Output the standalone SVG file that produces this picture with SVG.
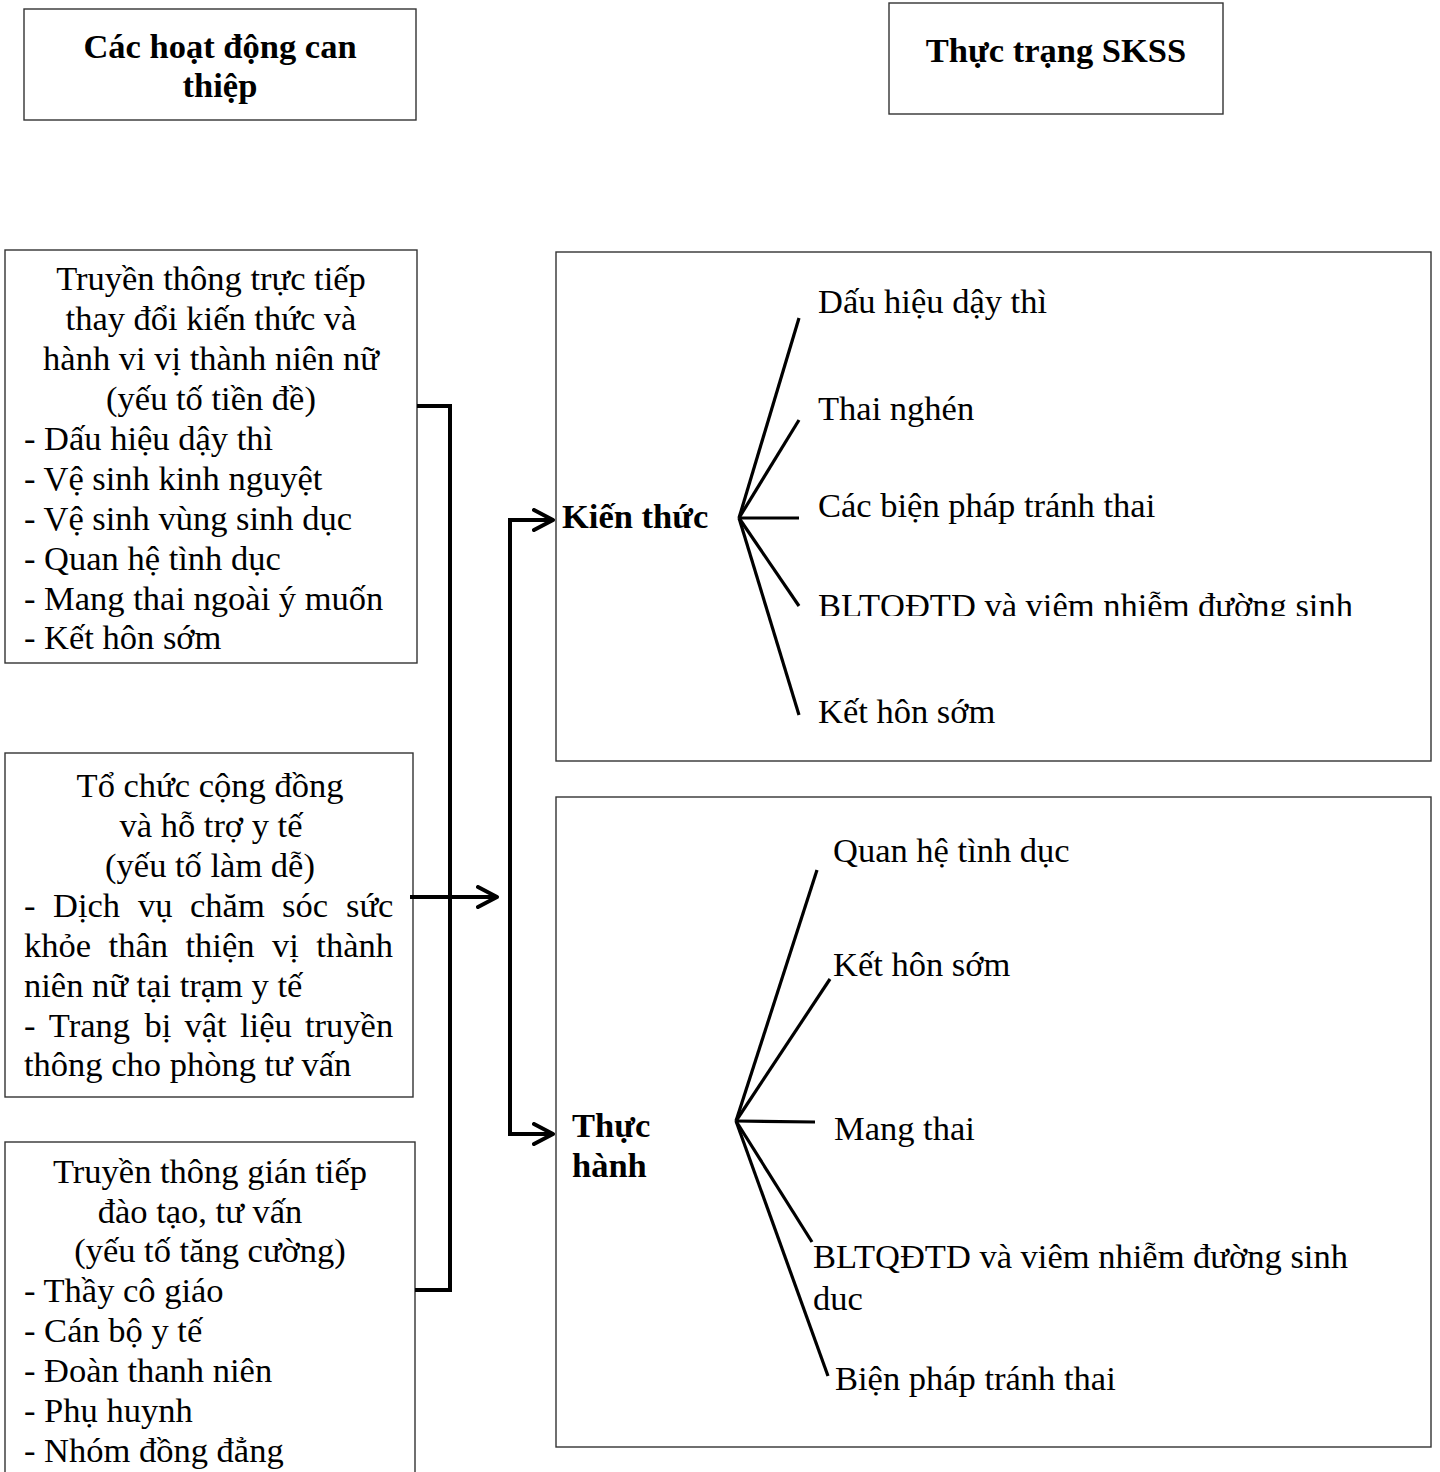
<svg xmlns="http://www.w3.org/2000/svg" width="1440" height="1472" viewBox="0 0 1440 1472">
<style>
.box{fill:#fff;stroke:#333;stroke-width:1.4}
.t{font-family:"Liberation Serif","Times New Roman",serif;font-size:34.5px;fill:#000}
.b{font-weight:bold}
.c{text-anchor:middle}
.con{fill:none;stroke:#000;stroke-width:4}
.fan{fill:none;stroke:#000;stroke-width:3.2;stroke-linecap:butt}
</style>
<defs>
<marker id="chev" viewBox="0 0 24 24" refX="21" refY="12" markerWidth="24" markerHeight="24" markerUnits="userSpaceOnUse" orient="auto">
<path d="M2,2 L21,12 L2,22" fill="none" stroke="#000" stroke-width="4" stroke-linecap="round" stroke-linejoin="round"/>
</marker>
<clipPath id="clipK"><rect x="800" y="560" width="620" height="56"/></clipPath>
</defs>
<rect width="1440" height="1472" fill="#fff"/>

<g id="title-left">
<rect class="box" x="24" y="9" width="392" height="111"/>
<text class="t b c" x="220" y="58">Các hoạt động can</text>
<text class="t b c" x="220" y="97">thiệp</text>
</g>
<g id="title-right">
<rect class="box" x="889" y="3" width="334" height="111"/>
<text class="t b c" x="1056" y="62">Thực trạng SKSS</text>
</g>

<g id="node-truyen-thong-truc-tiep">
<rect class="box" x="5" y="250" width="412" height="413"/>
<text class="t c" x="211" y="290">Truyền thông trực tiếp</text>
<text class="t c" x="211" y="330">thay đổi kiến thức và</text>
<text class="t c" x="211" y="370">hành vi vị thành niên nữ</text>
<text class="t c" x="211" y="410">(yếu tố tiền đề)</text>
<text class="t" x="24" y="450">- Dấu hiệu dậy thì</text>
<text class="t" x="24" y="490">- Vệ sinh kinh nguyệt</text>
<text class="t" x="24" y="530">- Vệ sinh vùng sinh dục</text>
<text class="t" x="24" y="570">- Quan hệ tình dục</text>
<text class="t" x="24" y="610">- Mang thai ngoài ý muốn</text>
<text class="t" x="24" y="649">- Kết hôn sớm</text>
</g>

<g id="node-to-chuc-cong-dong">
<rect class="box" x="5" y="753" width="408" height="344"/>
<text class="t c" x="210" y="797">Tổ chức cộng đồng</text>
<text class="t c" x="211" y="837">và hỗ trợ y tế</text>
<text class="t c" x="210" y="877">(yếu tố làm dễ)</text>
<text class="t" y="917"><tspan x="24">-</tspan><tspan x="53">Dịch</tspan><tspan x="138">vụ</tspan><tspan x="190">chăm</tspan><tspan x="282">sóc</tspan><tspan x="346">sức</tspan></text>
<text class="t" y="957"><tspan x="24">khỏe</tspan><tspan x="108.6">thân</tspan><tspan x="185.5">thiện</tspan><tspan x="272">vị</tspan><tspan x="316.3">thành</tspan></text>
<text class="t" x="24" y="997">niên nữ tại trạm y tế</text>
<text class="t" y="1037"><tspan x="24">-</tspan><tspan x="48.8">Trang</tspan><tspan x="144.4">bị</tspan><tspan x="184.5">vật</tspan><tspan x="240">liệu</tspan><tspan x="305">truyền</tspan></text>
<text class="t" x="24" y="1076">thông cho phòng tư vấn</text>
</g>

<g id="node-truyen-thong-gian-tiep">
<rect class="box" x="5" y="1142" width="410" height="340"/>
<text class="t c" x="210" y="1183">Truyền thông gián tiếp</text>
<text class="t c" x="200" y="1223">đào tạo, tư vấn</text>
<text class="t c" x="210" y="1262">(yếu tố tăng cường)</text>
<text class="t" x="24" y="1302">- Thầy cô giáo</text>
<text class="t" x="24" y="1342">- Cán bộ y tế</text>
<text class="t" x="24" y="1382">- Đoàn thanh niên</text>
<text class="t" x="24" y="1422">- Phụ huynh</text>
<text class="t" x="24" y="1462">- Nhóm đồng đẳng</text>
</g>

<g id="node-kien-thuc">
<rect class="box" x="556" y="252" width="875" height="509"/>
<text class="t b" x="562" y="528">Kiến thức</text>
<text class="t" x="818" y="313">Dấu hiệu dậy thì</text>
<text class="t" x="818" y="420">Thai nghén</text>
<text class="t" x="818" y="517">Các biện pháp tránh thai</text>
<text class="t" x="818" y="617" clip-path="url(#clipK)">BLTQĐTD và viêm nhiễm đường sinh</text>
<text class="t" x="818" y="723">Kết hôn sớm</text>
</g>

<g id="node-thuc-hanh">
<rect class="box" x="556" y="797" width="875" height="650"/>
<text class="t b" x="572" y="1137">Thực</text>
<text class="t b" x="572" y="1177">hành</text>
<text class="t" x="833" y="862">Quan hệ tình dục</text>
<text class="t" x="833" y="976">Kết hôn sớm</text>
<text class="t" x="834" y="1140">Mang thai</text>
<text class="t" x="813" y="1268">BLTQĐTD và viêm nhiễm đường sinh</text>
<text class="t" x="813" y="1310">duc</text>
<text class="t" x="835" y="1390">Biện pháp tránh thai</text>
</g>

<g id="connectors">
<polyline class="con" points="417,406 450,406 450,1290 415,1290"/>
<line class="con" x1="410" y1="897" x2="497" y2="897" marker-end="url(#chev)"/>
<polyline class="con" points="553,520 510,520 510,1134 553,1134"/>
<line class="con" x1="540" y1="520" x2="553" y2="520" marker-end="url(#chev)"/>
<line class="con" x1="540" y1="1134" x2="553" y2="1134" marker-end="url(#chev)"/>
<g class="fan">
<line x1="739" y1="518" x2="799" y2="318"/>
<line x1="739" y1="518" x2="799" y2="420"/>
<line x1="739" y1="518" x2="799" y2="518"/>
<line x1="739" y1="518" x2="799" y2="606"/>
<line x1="739" y1="518" x2="799" y2="715"/>
</g>
<g class="fan">
<line x1="736" y1="1121" x2="817" y2="870"/>
<line x1="736" y1="1121" x2="830" y2="979"/>
<line x1="736" y1="1121" x2="815" y2="1122"/>
<line x1="736" y1="1121" x2="812" y2="1242"/>
<line x1="736" y1="1121" x2="828" y2="1376"/>
</g>
</g>
</svg>
